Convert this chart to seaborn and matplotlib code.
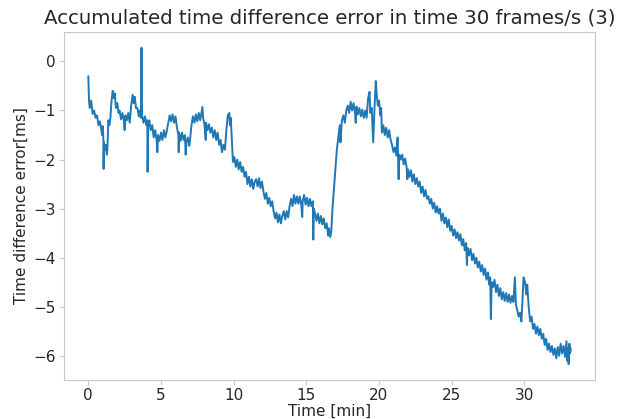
import numpy as np
import pandas as pd
import seaborn as sns
import matplotlib.pyplot as plt

# accumulated error (time in min, error in ms)
time_min = [
    0.00, 0.05, 0.10, 0.20, 0.30, 0.40, 0.50, 0.60, 0.70, 0.80,
    0.90, 0.95, 1.00, 1.04, 1.05, 1.08, 1.15, 1.20, 1.28, 1.32,
    1.38, 1.45, 1.52, 1.60, 1.68, 1.75, 1.82, 1.90, 2.00, 2.08,
    2.15, 2.25, 2.35, 2.45, 2.50, 2.55, 2.65, 2.75, 2.85, 2.95,
    3.05, 3.12, 3.20, 3.28, 3.38, 3.48, 3.55, 3.62, 3.66, 3.70,
    3.80, 3.90, 4.00, 4.06, 4.08, 4.12, 4.20, 4.30, 4.40, 4.50,
    4.60, 4.70, 4.75, 4.80, 4.90, 5.00, 5.10, 5.20, 5.30, 5.40,
    5.50, 5.60, 5.70, 5.80, 5.90, 6.00, 6.10, 6.20, 6.22, 6.25,
    6.35, 6.45, 6.55, 6.65, 6.70, 6.75, 6.85, 6.95, 7.00, 7.10,
    7.20, 7.30, 7.40, 7.50, 7.60, 7.70, 7.85, 7.90, 8.00, 8.08,
    8.10, 8.20, 8.30, 8.40, 8.50, 8.60, 8.70, 8.80, 8.90, 9.00,
    9.10, 9.20, 9.30, 9.40, 9.50, 9.60, 9.70, 9.75, 9.80, 9.88,
    9.95, 10.05, 10.15, 10.25, 10.35, 10.45, 10.55, 10.65, 10.75, 10.85,
    10.95, 11.05, 11.15, 11.25, 11.35, 11.45, 11.55, 11.65, 11.75, 11.85,
    11.95, 12.05, 12.15, 12.25, 12.35, 12.45, 12.55, 12.65, 12.75, 12.85,
    12.95, 13.05, 13.15, 13.25, 13.35, 13.45, 13.55, 13.65, 13.75, 13.85,
    13.95, 14.05, 14.15, 14.25, 14.35, 14.45, 14.55, 14.65, 14.72, 14.75,
    14.85, 14.95, 15.05, 15.15, 15.25, 15.35, 15.45, 15.48, 15.52, 15.60,
    15.70, 15.80, 15.90, 16.00, 16.10, 16.20, 16.30, 16.40, 16.50, 16.55,
    16.65, 16.72, 16.80, 16.90, 17.00, 17.10, 17.20, 17.30, 17.35, 17.45,
    17.55, 17.65, 17.75, 17.85, 17.95, 18.05, 18.15, 18.25, 18.35, 18.40,
    18.45, 18.55, 18.65, 18.75, 18.85, 18.95, 19.05, 19.15, 19.25, 19.35,
    19.40, 19.50, 19.60, 19.70, 19.78, 19.85, 19.92, 20.00, 20.10, 20.15,
    20.20, 20.30, 20.40, 20.50, 20.60, 20.70, 20.80, 20.90, 21.00, 21.10,
    21.20, 21.28, 21.35, 21.40, 21.50, 21.60, 21.70, 21.80, 21.90, 21.95,
    22.00, 22.10, 22.20, 22.30, 22.40, 22.50, 22.60, 22.70, 22.80, 22.90,
    23.00, 23.10, 23.20, 23.30, 23.40, 23.50, 23.60, 23.70, 23.80, 23.90,
    24.00, 24.10, 24.20, 24.30, 24.40, 24.50, 24.60, 24.70, 24.80, 24.90,
    25.00, 25.10, 25.20, 25.30, 25.40, 25.50, 25.60, 25.70, 25.80, 25.90,
    26.00, 26.05, 26.10, 26.20, 26.30, 26.40, 26.50, 26.60, 26.70, 26.80,
    26.90, 27.00, 27.10, 27.20, 27.30, 27.40, 27.50, 27.60, 27.65, 27.70,
    27.75, 27.85, 27.95, 28.05, 28.15, 28.25, 28.35, 28.45, 28.55, 28.65,
    28.75, 28.85, 28.95, 29.05, 29.15, 29.25, 29.35, 29.42, 29.50, 29.60,
    29.70, 29.80, 29.90, 29.95, 30.05, 30.15, 30.20, 30.30, 30.40, 30.50,
    30.60, 30.70, 30.80, 30.90, 31.00, 31.10, 31.20, 31.30, 31.40, 31.50,
    31.60, 31.70, 31.80, 31.90, 32.00, 32.10, 32.20, 32.30, 32.40, 32.50,
    32.60, 32.70, 32.80, 32.90, 32.95, 33.00, 33.05, 33.10, 33.15, 33.20,
]
error_ms = [
    -0.30, -0.80, -0.95, -0.80, -1.07, -1.00, -1.15, -1.10, -1.30, -1.22,
    -1.40, -1.50, -1.32, -1.60, -2.19, -1.65, -1.80, -1.70, -1.90, -1.75,
    -1.20, -1.30, -1.15, -0.80, -0.60, -0.75, -0.65, -0.95, -0.85, -1.05,
    -1.00, -1.18, -1.05, -1.22, -1.40, -1.10, -1.20, -1.05, -1.25, -0.90,
    -0.68, -0.85, -0.72, -0.95, -0.95, -1.12, -1.00, -1.15, 0.28, -1.10,
    -1.25, -1.12, -1.30, -1.20, -2.25, -1.30, -1.20, -1.40, -1.30, -1.55,
    -1.40, -1.60, -1.85, -1.50, -1.62, -1.45, -1.60, -1.40, -1.55, -1.42,
    -1.25, -1.10, -1.22, -1.08, -1.25, -1.12, -1.35, -1.50, -1.85, -1.45,
    -1.62, -1.45, -1.60, -1.50, -1.90, -1.65, -1.55, -1.72, -1.60, -1.30,
    -1.12, -1.25, -1.08, -1.22, -1.05, -1.20, -0.93, -1.15, -1.30, -1.60,
    -1.25, -1.40, -1.28, -1.45, -1.35, -1.55, -1.40, -1.60, -1.45, -1.70,
    -1.60, -1.85, -1.70, -1.80, -1.40, -1.10, -1.05, -1.30, -1.15, -1.60,
    -2.05, -1.95, -2.15, -2.00, -2.20, -2.05, -2.25, -2.15, -2.35, -2.25,
    -2.50, -2.35, -2.55, -2.40, -2.60, -2.45, -2.40, -2.55, -2.38, -2.58,
    -2.45, -2.65, -2.80, -2.68, -2.90, -2.78, -2.95, -2.85, -3.05, -3.20,
    -3.08, -3.28, -3.12, -3.30, -3.15, -3.05, -3.22, -3.05, -3.18, -2.95,
    -2.80, -2.95, -2.72, -2.90, -2.75, -2.90, -2.75, -2.92, -3.17, -2.85,
    -2.72, -2.92, -2.78, -2.95, -2.80, -2.95, -2.85, -3.63, -3.00, -3.10,
    -3.25, -3.10, -3.30, -3.15, -3.32, -3.20, -3.40, -3.30, -3.55, -3.40,
    -3.58, -3.45, -3.00, -2.60, -2.20, -1.80, -1.55, -1.30, -1.65, -1.20,
    -1.10, -1.25, -1.00, -0.90, -1.05, -0.82, -1.00, -0.85, -1.05, -1.25,
    -0.92, -1.08, -0.95, -1.12, -0.98, -1.15, -1.00, -1.15, -0.75, -0.62,
    -1.05, -0.95, -1.65, -0.90, -0.40, -0.70, -0.90, -0.80, -1.10, -0.95,
    -1.45, -1.30, -1.50, -1.35, -1.55, -1.40, -1.60, -1.70, -1.85, -1.75,
    -1.92, -1.55, -2.40, -1.90, -2.00, -1.90, -2.10, -1.98, -2.15, -2.40,
    -2.20, -2.35, -2.22, -2.45, -2.30, -2.50, -2.38, -2.55, -2.45, -2.68,
    -2.55, -2.75, -2.62, -2.80, -2.75, -2.90, -2.80, -3.00, -2.88, -3.08,
    -2.95, -3.10, -3.00, -3.25, -3.10, -3.30, -3.18, -3.38, -3.22, -3.45,
    -3.35, -3.55, -3.42, -3.60, -3.48, -3.65, -3.52, -3.75, -3.62, -3.85,
    -3.70, -4.15, -3.80, -3.95, -3.82, -4.05, -3.92, -4.12, -4.00, -4.20,
    -4.08, -4.28, -4.15, -4.35, -4.22, -4.45, -4.30, -4.55, -4.40, -5.25,
    -4.50, -4.60, -4.45, -4.70, -4.55, -4.78, -4.62, -4.85, -4.70, -4.88,
    -4.72, -4.90, -4.75, -4.92, -4.78, -4.90, -4.40, -4.95, -5.05, -5.20,
    -5.12, -5.30, -4.70, -4.40, -4.50, -4.75, -4.55, -5.00, -5.30, -5.20,
    -5.45, -5.35, -5.55, -5.40, -5.58, -5.45, -5.65, -5.55, -5.78, -5.65,
    -5.88, -5.75, -5.92, -5.80, -5.98, -5.85, -6.05, -5.82, -6.00, -5.75,
    -5.95, -5.80, -6.02, -5.70, -6.10, -5.85, -6.17, -5.75, -5.95, -5.85,
]

df = pd.DataFrame({"time": time_min, "error": error_ms})

sns.set_style("ticks")
plt.rcParams["axes.edgecolor"] = "#c8c8c8"
plt.rcParams["xtick.color"] = "#c8c8c8"
plt.rcParams["ytick.color"] = "#c8c8c8"
plt.rcParams["xtick.labelcolor"] = "#262626"
plt.rcParams["ytick.labelcolor"] = "#262626"

fig, ax = plt.subplots(figsize=(6.23, 4.19), dpi=100)
fig.subplots_adjust(left=0.103, right=0.955, bottom=0.093, top=0.924)

sns.lineplot(data=df, x="time", y="error", ax=ax, color="#1f77b4",
             linewidth=1.4, estimator=None)

ax.set_title("Accumulated time difference error in time 30 frames/s (3)",
             fontsize=14.2)
ax.set_xlabel("Time [min]", fontsize=11, labelpad=0)
ax.set_ylabel("Time difference error[ms]", fontsize=11, labelpad=3)
ax.set_xticks([0, 5, 10, 15, 20, 25, 30])
ax.set_yticks([0, -1, -2, -3, -4, -5, -6])
ax.tick_params(labelsize=11, length=3.5, pad=2.5)

fig.savefig("out.png", dpi=100)
